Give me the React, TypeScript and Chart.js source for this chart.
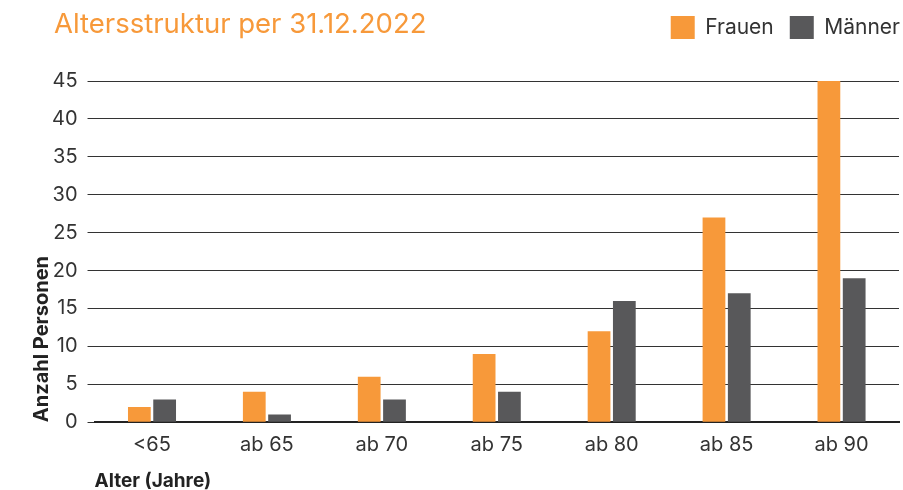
import React, { useEffect, useRef } from "react";
import { Chart, registerables } from "chart.js";

Chart.register(...registerables);

const categories = ["<65", "ab 65", "ab 70", "ab 75", "ab 80", "ab 85", "ab 90"];
const frauen = [2, 4, 6, 9, 12, 27, 45];
const maenner = [3, 1, 3, 4, 16, 17, 19];
const seriesNames = ["Frauen", "Männer"];
const titleText = "Altersstruktur per 31.12.2022";
const yTitle = "Anzahl Personen";
const xTitle = "Alter (Jahre)";

const ORANGE = "#F7993A";
const GREY = "#58585A";
const FONT = "Inter, 'Noto Sans', sans-serif";

const legendSpacer = {
  id: "legendSpacer",
  afterInit(chart: any) {
    const legend = chart.legend;
    if (!legend) return;
    const orig = legend.fit;
    legend.fit = function () {
      orig.call(this);
      this.height += 32;
    };
  },
  afterLayout(chart: any) {
    const legend = chart.legend;
    if (!legend) return;
    legend.left += 17;
    legend.right += 17;
  },
};

export default function App() {
  const ref = useRef<HTMLCanvasElement | null>(null);
  useEffect(() => {
    if (!ref.current) return;
    const chart = new Chart(ref.current, {
      type: "bar",
      data: {
        labels: categories,
        datasets: [
          { label: seriesNames[0], data: frauen, backgroundColor: ORANGE, categoryPercentage: 0.44, barPercentage: 0.9 },
          { label: seriesNames[1], data: maenner, backgroundColor: GREY, categoryPercentage: 0.44, barPercentage: 0.9 },
        ],
      },
      plugins: [legendSpacer],
      options: {
        animation: false,
        responsive: false,
        devicePixelRatio: 1,
        layout: { padding: { top: 0, right: 4, left: 30, bottom: 0 } },
        plugins: {
          legend: {
            position: "top",
            align: "end",
            labels: {
              boxWidth: 24,
              boxHeight: 23,
              padding: 16,
              color: "#333",
              font: { family: FONT, size: 21 },
            },
          },
          tooltip: { enabled: false },
        },
        scales: {
          x: {
            grid: { display: false, drawTicks: false },
            border: { display: true, color: "#222", width: 2 },
            ticks: { color: "#333", font: { family: FONT, size: 20 }, padding: 11 },
            afterFit(scale: any) {
              scale.height -= 8;
            },
            title: {
              display: true,
              text: xTitle,
              align: "start",
              color: "#222",
              font: { family: FONT, size: 19, weight: "bold" },
              padding: { top: 10, bottom: -3 },
            },
          },
          y: {
            min: 0,
            max: 45,
            ticks: { stepSize: 5, color: "#333", font: { family: FONT, size: 20 }, padding: 10 },
            grid: { color: "#333", lineWidth: 1, tickLength: 7, drawTicks: true },
            border: { display: false },
            afterFit(scale: any) {
              scale.width -= 12;
            },
            title: {
              display: true,
              text: yTitle,
              align: "start",
              color: "#222",
              font: { family: FONT, size: 20, weight: "bold" },
              padding: { top: 0, bottom: 0 },
            },
          },
        },
      },
    });
    return () => chart.destroy();
  }, []);
  return (
    <div style={{ position: "absolute", left: 0, top: 0, width: 903, height: 490, background: "#fff" }}>
      <canvas ref={ref} width={903} height={490} style={{ display: "block" }} />
      <div
        style={{
          position: "absolute",
          left: 54,
          top: 6,
          color: ORANGE,
          fontFamily: FONT,
          fontSize: 27.5,
          lineHeight: "34px",
          whiteSpace: "nowrap",
        }}
      >
        {titleText}
      </div>
    </div>
  );
}
